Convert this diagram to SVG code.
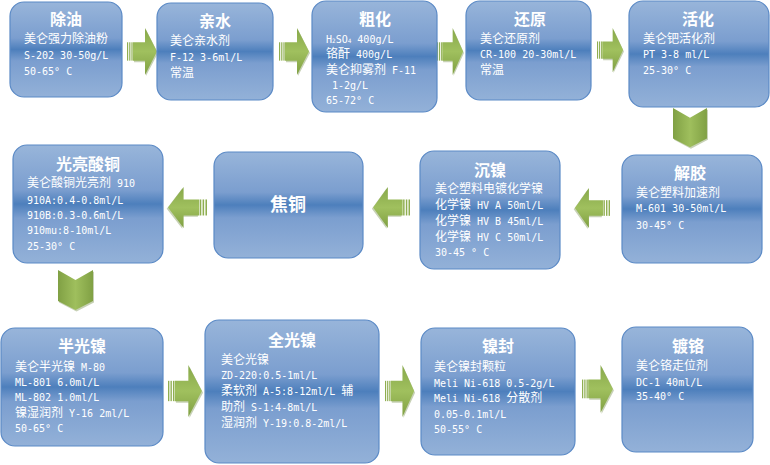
<svg xmlns="http://www.w3.org/2000/svg" xmlns:xlink="http://www.w3.org/1999/xlink" width="770" height="465" viewBox="0 0 770 465">
<defs>
<linearGradient id="bg" x1="0" y1="0" x2="0" y2="1">
<stop offset="0" stop-color="#98b5da"/>
<stop offset="0.38" stop-color="#7b9ecf"/>
<stop offset="0.5" stop-color="#4d7fbc"/>
<stop offset="0.62" stop-color="#7b9ecf"/>
<stop offset="1" stop-color="#93b1d8"/>
</linearGradient>
<linearGradient id="gr" x1="0" y1="0" x2="0" y2="1">
<stop offset="0" stop-color="#87a84a"/>
<stop offset="0.5" stop-color="#a0c05e"/>
<stop offset="1" stop-color="#7f9f42"/>
</linearGradient>
<linearGradient id="gd" x1="0" y1="0" x2="1" y2="0">
<stop offset="0" stop-color="#80a044"/>
<stop offset="0.5" stop-color="#9fbf5d"/>
<stop offset="1" stop-color="#80a044"/>
</linearGradient>
<g id="ar">
<rect x="0" y="14" width="1.2" height="18" fill="#8fae50"/>
<rect x="2.2" y="14" width="1.2" height="18" fill="#8fae50"/>
<rect x="4.4" y="14" width="1.2" height="18" fill="#8fae50"/>
<path d="M7,15.5 H19 V1.5 L31,24.5 L19,47 V33.5 H7 Z" fill="#5f7a2c" opacity="0.35"/>
<path d="M6,14 H18 V0 L30,23 L18,46 V32 H6 Z" fill="url(#gr)"/>
</g>
<g id="dn">
<path d="M1,1.5 L18.5,11.5 L36,1.5 V32.5 L18.5,41.5 L1,32.5 Z" fill="#5f7a2c" opacity="0.35"/>
<path d="M0,0 L17.5,10 L35,0 V31 L17.5,40 L0,31 Z" fill="url(#gd)"/>
</g>
</defs>
<style>
.b{fill:url(#bg);stroke:#5b8ac6;stroke-width:1.2}
.h{font-family:"Noto Sans CJK SC",sans-serif;font-weight:bold;font-size:16px;fill:#fff;text-anchor:middle}
.t{font-family:"DejaVu Sans Mono","Liberation Mono","Noto Sans CJK SC",monospace;font-size:10px;fill:#fff}
.c{font-family:"Noto Sans CJK SC",sans-serif;font-size:12px}
.s{font-size:6px}
</style>
<g id="connectors">
<use xlink:href="#ar" transform="translate(127,28) scale(1,1.02)"/>
<use xlink:href="#ar" transform="translate(279,28) scale(1,1.02)"/>
<use xlink:href="#ar" transform="translate(437,28) scale(0.87,1.02)"/>
<use xlink:href="#ar" transform="translate(597,28) scale(0.87,0.96)"/>
<use xlink:href="#dn" transform="translate(673,108) scale(0.97,0.98)"/>
<use xlink:href="#ar" transform="translate(610,188) scale(-1.17,0.87)"/>
<use xlink:href="#ar" transform="translate(410,187) scale(-1.23,0.89)"/>
<use xlink:href="#ar" transform="translate(207,187) scale(-1.3,0.89)"/>
<use xlink:href="#dn" transform="translate(58,270)"/>
<use xlink:href="#ar" transform="translate(168,365) scale(1.13,1.13)"/>
<use xlink:href="#ar" transform="translate(385,365) scale(0.97,1.13)"/>
<use xlink:href="#ar" transform="translate(582,365) scale(1.03,1.04)"/>
</g>
<g id="n1">
<rect class="b" x="10" y="2" width="112" height="95" rx="14"/>
<text class="h" x="66" y="25">除油</text>
<text class="t" x="24" y="43"><tspan class="c">美仑强力除油粉</tspan></text>
<text class="t" x="24" y="59">S-202 30-50g/L</text>
<text class="t" x="24" y="75">50-65° C</text>
</g>
<g id="n2">
<rect class="b" x="157" y="3" width="116" height="97" rx="14"/>
<text class="h" x="215" y="27">亲水</text>
<text class="t" x="170" y="45"><tspan class="c">美仑亲水剂</tspan></text>
<text class="t" x="170" y="61">F-12 3-6ml/L</text>
<text class="t" x="170" y="77"><tspan class="c">常温</tspan></text>
</g>
<g id="n3">
<rect class="b" x="312" y="1" width="125" height="111" rx="14"/>
<text class="h" x="375" y="25">粗化</text>
<text class="t" x="326" y="43">H<tspan class="s">2</tspan>SO<tspan class="s">4</tspan> 400g/L</text>
<text class="t" x="326" y="58"><tspan class="c">铬酐</tspan> 400g/L</text>
<text class="t" x="326" y="74"><tspan class="c">美仑抑雾剂</tspan> F-11</text>
<text class="t" x="332" y="89">1-2g/L</text>
<text class="t" x="326" y="104">65-72° C</text>
</g>
<g id="n4">
<rect class="b" x="466" y="1" width="125" height="99" rx="14"/>
<text class="h" x="530" y="25">还原</text>
<text class="t" x="480" y="43"><tspan class="c">美仑还原剂</tspan></text>
<text class="t" x="480" y="58">CR-100 20-30ml/L</text>
<text class="t" x="480" y="74"><tspan class="c">常温</tspan></text>
</g>
<g id="n5">
<rect class="b" x="629" y="1" width="140" height="106" rx="14"/>
<text class="h" x="698" y="25">活化</text>
<text class="t" x="643" y="43"><tspan class="c">美仑钯活化剂</tspan></text>
<text class="t" x="643" y="58">PT 3-8 ml/L</text>
<text class="t" x="643" y="74">25-30° C</text>
</g>
<g id="n6">
<rect class="b" x="622" y="155" width="140" height="108" rx="14"/>
<text class="h" x="690" y="179">解胶</text>
<text class="t" x="636" y="197"><tspan class="c">美仑塑料加速剂</tspan></text>
<text class="t" x="636" y="212">M-601 30-50ml/L</text>
<text class="t" x="636" y="229">30-45° C</text>
</g>
<g id="n7">
<rect class="b" x="420" y="151" width="140" height="118" rx="14"/>
<text class="h" x="490" y="176">沉镍</text>
<text class="t" x="435" y="193"><tspan class="c">美仑塑料电镀化学镍</tspan></text>
<text class="t" x="435" y="209"><tspan class="c">化学镍</tspan> HV A 50ml/L</text>
<text class="t" x="435" y="225"><tspan class="c">化学镍</tspan> HV B 45ml/L</text>
<text class="t" x="435" y="241"><tspan class="c">化学镍</tspan> HV C 50ml/L</text>
<text class="t" x="435" y="256">30-45 ° C</text>
</g>
<g id="n8">
<rect class="b" x="214" y="152" width="149" height="106" rx="14"/>
<text class="h" x="288" y="211" style="font-size:18px">焦铜</text>
</g>
<g id="n9">
<rect class="b" x="13" y="145" width="150" height="118" rx="14"/>
<text class="h" x="88" y="170">光亮酸铜</text>
<text class="t" x="27" y="187"><tspan class="c">美仑酸铜光亮剂</tspan> 910</text>
<text class="t" x="27" y="204">910A:0.4-0.8ml/L</text>
<text class="t" x="27" y="219">910B:0.3-0.6ml/L</text>
<text class="t" x="27" y="234">910mu:8-10ml/L</text>
<text class="t" x="27" y="250">25-30° C</text>
</g>
<g id="n10">
<rect class="b" x="1" y="328" width="162" height="118" rx="14"/>
<text class="h" x="82" y="352">半光镍</text>
<text class="t" x="15" y="371"><tspan class="c">美仑半光镍</tspan> M-80</text>
<text class="t" x="15" y="386">ML-801 6.0ml/L</text>
<text class="t" x="15" y="401">ML-802 1.0ml/L</text>
<text class="t" x="15" y="417"><tspan class="c">镍湿润剂</tspan> Y-16 2ml/L</text>
<text class="t" x="15" y="432">50-65° C</text>
</g>
<g id="n11">
<rect class="b" x="205" y="320" width="174" height="143" rx="14"/>
<text class="h" x="292" y="346">全光镍</text>
<text class="t" x="221" y="364"><tspan class="c">美仑光镍</tspan></text>
<text class="t" x="221" y="379">ZD-220:0.5-1ml/L</text>
<text class="t" x="221" y="395"><tspan class="c">柔软剂</tspan> A-5:8-12ml/L <tspan class="c">辅</tspan></text>
<text class="t" x="221" y="411"><tspan class="c">助剂</tspan> S-1:4-8ml/L</text>
<text class="t" x="221" y="427"><tspan class="c">湿润剂</tspan> Y-19:0.8-2ml/L</text>
</g>
<g id="n12">
<rect class="b" x="421" y="328" width="154" height="127" rx="14"/>
<text class="h" x="498" y="352">镍封</text>
<text class="t" x="434" y="371"><tspan class="c">美仑镍封颗粒</tspan></text>
<text class="t" x="434" y="387">Meli Ni-618 0.5-2g/L</text>
<text class="t" x="434" y="402">Meli Ni-618 <tspan class="c">分散剂</tspan></text>
<text class="t" x="434" y="418">0.05-0.1ml/L</text>
<text class="t" x="434" y="433">50-55° C</text>
</g>
<g id="n13">
<rect class="b" x="622" y="327" width="131" height="125" rx="14"/>
<text class="h" x="688" y="352">镀铬</text>
<text class="t" x="636" y="370"><tspan class="c">美仑铬走位剂</tspan></text>
<text class="t" x="636" y="386">DC-1 40ml/L</text>
<text class="t" x="636" y="400">35-40° C</text>
</g>
</svg>
